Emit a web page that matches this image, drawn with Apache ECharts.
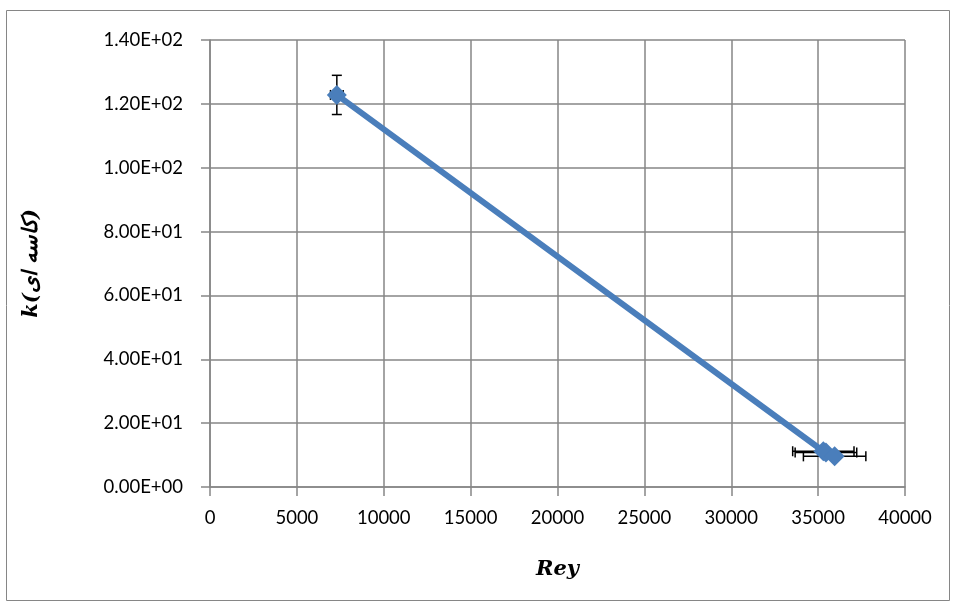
<!DOCTYPE html>
<html>
<head>
<meta charset="utf-8">
<script src="https://cdn.jsdelivr.net/npm/echarts@6/dist/echarts.min.js"></script>
<style>
html,body{margin:0;padding:0;background:#fff;}
#chart{width:956px;height:607px;}
</style>
</head>
<body>
<div id="chart"></div>
<script>
// Data
var reyValues = [7300, 35300, 35450, 35950];
var kValues = [122.8, 11.2, 10.8, 9.6];
var reyErrors = [365, 1765, 1772, 1797];
var kErrors = [6.14, 0.56, 0.54, 0.48];
var xTicks = [0, 5000, 10000, 15000, 20000, 25000, 30000, 35000, 40000];
var yTicks = [0, 20, 40, 60, 80, 100, 120, 140];
var xTitle = 'Rey';
var yTitle = 'k(کاسه ای)';

var points = reyValues.map(function (x, i) { return [x, kValues[i]]; });
var errData = reyValues.map(function (x, i) { return [x, kValues[i], reyErrors[i], kErrors[i]]; });

function sci(v) {
  if (v === 0) return '0.00E+00';
  var e = Math.floor(Math.log10(Math.abs(v)));
  var m = v / Math.pow(10, e);
  var es = (e < 0 ? '-' : '+') + (Math.abs(e) < 10 ? '0' : '') + Math.abs(e);
  return m.toFixed(2) + 'E' + es;
}

var gray = '#868686';
var blue = '#4a7ebb';
var labelFont = 'Lato, "Open Sans", sans-serif';

var chart = echarts.init(document.getElementById('chart'));
chart.setOption({
  animation: false,
  backgroundColor: '#fff',
  grid: { left: 210, right: 51, top: 40, bottom: 120 },
  graphic: [{
    type: 'rect',
    shape: { x: 6.5, y: 10.5, width: 943, height: 590 },
    style: { fill: 'none', stroke: gray, lineWidth: 1 },
    z: -10
  }],
  xAxis: {
    type: 'value',
    min: xTicks[0],
    max: xTicks[xTicks.length - 1],
    interval: 5000,
    name: xTitle,
    nameLocation: 'middle',
    nameGap: 72,
    nameTextStyle: { fontFamily: '"DejaVu Serif", serif', fontWeight: 'bold', fontStyle: 'italic', fontSize: 21, color: '#000' },
    axisLine: { lineStyle: { color: gray, width: 1.5 } },
    axisTick: { show: true, length: 9, lineStyle: { color: gray, width: 1.5 } },
    axisLabel: { color: '#000', fontSize: 18.5, fontFamily: labelFont, margin: 22, formatter: function (v) { return String(v); } },
    splitLine: { show: true, lineStyle: { color: gray, width: 1.5 } }
  },
  yAxis: {
    type: 'value',
    min: yTicks[0],
    max: yTicks[yTicks.length - 1],
    interval: 20,
    name: yTitle,
    nameLocation: 'middle',
    nameGap: 168,
    nameRotate: 90,
    nameTextStyle: { fontFamily: '"DejaVu Serif", serif', fontWeight: 'bold', fontStyle: 'italic', fontSize: 21, color: '#000' },
    axisLine: { show: true, lineStyle: { color: gray, width: 1.5 } },
    axisTick: { show: true, length: 9, lineStyle: { color: gray, width: 1.5 } },
    axisLabel: { color: '#000', fontSize: 18.5, fontFamily: labelFont, margin: 27, formatter: sci },
    splitLine: { show: true, lineStyle: { color: gray, width: 1.5 } }
  },
  series: [
    {
      type: 'custom',
      data: errData,
      z: 2,
      renderItem: function (params, api) {
        var x = api.value(0), y = api.value(1), ex = api.value(2), ey = api.value(3);
        var cap = 5;
        var l = api.coord([x - ex, y]), r = api.coord([x + ex, y]);
        var t = api.coord([x, y + ey]), b = api.coord([x, y - ey]);
        var st = { stroke: '#000', lineWidth: 1.5 };
        return {
          type: 'group',
          children: [
            { type: 'line', shape: { x1: l[0], y1: l[1], x2: r[0], y2: r[1] }, style: st },
            { type: 'line', shape: { x1: l[0], y1: l[1] - cap, x2: l[0], y2: l[1] + cap }, style: st },
            { type: 'line', shape: { x1: r[0], y1: r[1] - cap, x2: r[0], y2: r[1] + cap }, style: st },
            { type: 'line', shape: { x1: t[0], y1: t[1], x2: b[0], y2: b[1] }, style: st },
            { type: 'line', shape: { x1: t[0] - cap, y1: t[1], x2: t[0] + cap, y2: t[1] }, style: st },
            { type: 'line', shape: { x1: b[0] - cap, y1: b[1], x2: b[0] + cap, y2: b[1] }, style: st }
          ]
        };
      }
    },
    {
      type: 'line',
      data: points,
      z: 3,
      symbol: 'diamond',
      symbolSize: 20,
      showSymbol: true,
      lineStyle: { color: blue, width: 6 },
      itemStyle: { color: blue }
    }
  ]
});
</script>
</body>
</html>
